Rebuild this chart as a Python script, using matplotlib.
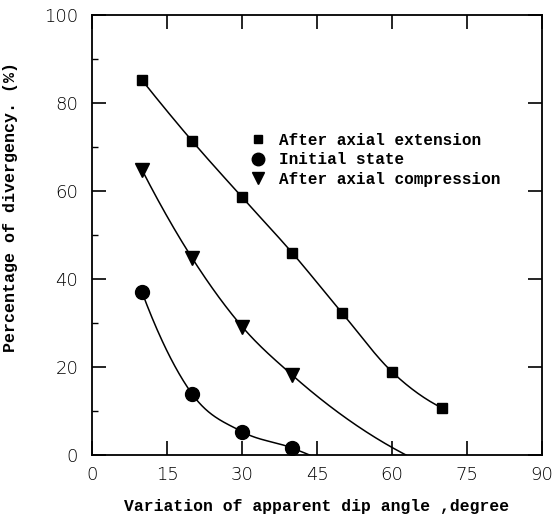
import numpy as np
import matplotlib
matplotlib.use("Agg")
import matplotlib.pyplot as plt
from matplotlib.ticker import MultipleLocator

# dip angle variation (degree) and divergency (%) for each state
dip_extension = [10, 20, 30, 40, 50, 60, 70]
div_extension = [85.2, 71.4, 58.6, 46.0, 32.3, 18.9, 10.7]

dip_initial = [10, 20, 30, 40]
div_initial = [37.0, 13.9, 5.3, 1.6]
# where the fitted curves run out at zero divergency
end_initial = (43.5, 0.0)

dip_compression = [10, 20, 30, 40]
div_compression = [64.8, 44.8, 29.2, 18.2]
end_compression = (62.8, 0.0)

legend_labels = ["After axial extension", "Initial state", "After axial compression"]


def smooth_curve(x, y, n=200):
    # cubic Hermite, slopes taken from the parabola through neighbouring points
    x = np.asarray(x, float)
    y = np.asarray(y, float)
    h = np.diff(x)
    d = np.diff(y) / h
    m = np.zeros_like(y)
    for i in range(1, len(x) - 1):
        m[i] = (h[i] * d[i - 1] + h[i - 1] * d[i]) / (h[i - 1] + h[i])
    m[0] = ((2 * h[0] + h[1]) * d[0] - h[0] * d[1]) / (h[0] + h[1])
    m[-1] = ((2 * h[-1] + h[-2]) * d[-1] - h[-1] * d[-2]) / (h[-1] + h[-2])
    xs = np.linspace(x[0], x[-1], n)
    idx = np.clip(np.searchsorted(x, xs) - 1, 0, len(x) - 2)
    hh = h[idx]
    t = (xs - x[idx]) / hh
    h00 = 2 * t ** 3 - 3 * t ** 2 + 1
    h10 = t ** 3 - 2 * t ** 2 + t
    h01 = -2 * t ** 3 + 3 * t ** 2
    h11 = t ** 3 - t ** 2
    ys = h00 * y[idx] + h10 * hh * m[idx] + h01 * y[idx + 1] + h11 * hh * m[idx + 1]
    return xs, ys


fig = plt.figure(figsize=(5.55, 5.19), dpi=100)
ax = fig.add_axes([0.1658, 0.1233, 0.8108, 0.8478])

# fitted curves
xs, ys = smooth_curve(dip_extension, div_extension)
ax.plot(xs, ys, color="black", lw=1.1)
xs, ys = smooth_curve(dip_initial + [end_initial[0]], div_initial + [end_initial[1]])
ax.plot(xs, ys, color="black", lw=1.1)
xs, ys = smooth_curve(dip_compression + [end_compression[0]], div_compression + [end_compression[1]])
ax.plot(xs, ys, color="black", lw=1.1)

# measured points
h1, = ax.plot(dip_extension, div_extension, ls="none", marker="s", ms=7, color="black")
h2, = ax.plot(dip_initial, div_initial, ls="none", marker="o", ms=10, color="black")
h3, = ax.plot(dip_compression, div_compression, ls="none", marker="v", ms=9.5, color="black")

ax.set_xlim(0, 90)
ax.set_ylim(0, 100)
ax.xaxis.set_major_locator(MultipleLocator(15))
ax.yaxis.set_major_locator(MultipleLocator(20))
ax.yaxis.set_minor_locator(MultipleLocator(10))
ax.tick_params(which="major", direction="in", length=10, width=1.2,
               top=True, right=True, labelsize=13, pad=8)
ax.tick_params(which="minor", direction="in", length=4, width=1.0, left=True, right=False)
ax.tick_params(axis="y", pad=10)
for lab in ax.get_xticklabels() + ax.get_yticklabels():
    lab.set_fontfamily("DejaVu Sans")
    lab.set_fontweight("light")
for sp in ax.spines.values():
    sp.set_linewidth(1.3)

mono = dict(family="Liberation Mono", weight="bold")
ax.set_xlabel("Variation of apparent dip angle ,degree", fontsize=11.8, labelpad=11, **mono)
ax.set_ylabel("Percentage of divergency. (%)", fontsize=12, **mono)
ax.yaxis.set_label_coords(-0.165, 0.564)

leg = ax.legend([h1, h2, h3], legend_labels, loc="upper left",
                bbox_to_anchor=(0.337, 0.75), frameon=False,
                prop=dict(family="Liberation Mono", weight="bold", size=11.5),
                handlelength=0.8, handletextpad=0.9, labelspacing=0.28,
                borderpad=0, markerscale=0.9)

fig.savefig("out.png", dpi=100)
